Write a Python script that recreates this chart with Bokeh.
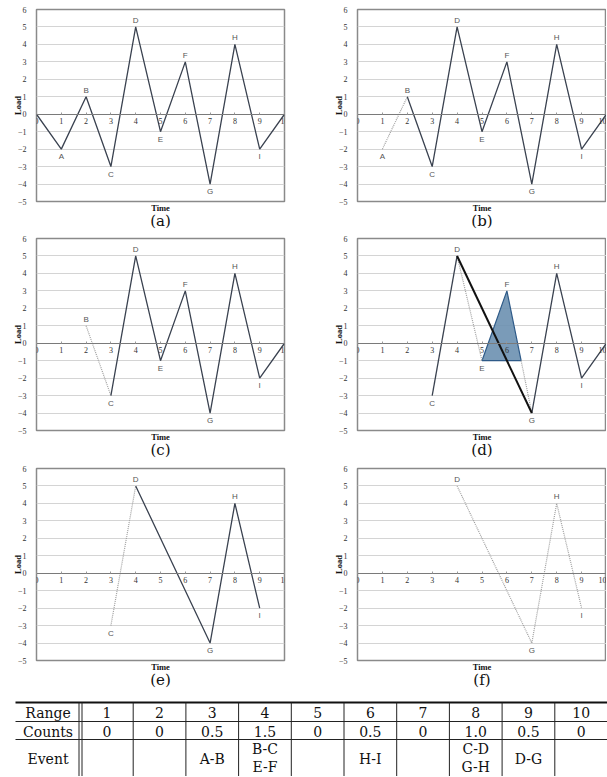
from bokeh.plotting import figure
from bokeh.models import Range1d, LinearAxis, Title, FixedTicker
from bokeh.layouts import column, row
from bokeh.embed import file_html
from bokeh.resources import INLINE
from bokeh.core.properties import value

# ---------------- data ----------------
times = [0, 1, 2, 3, 4, 5, 6, 7, 8, 9, 10]
loads = [0, -2, 1, -3, 5, -1, 3, -4, 4, -2, 0]
names = ["", "A", "B", "C", "D", "E", "F", "G", "H", "I", ""]

# which points (indices) are drawn solid / dotted / thick, and labelled, per panel
panel_a_solid = [[0, 1, 2, 3, 4, 5, 6, 7, 8, 9, 10]]
panel_a_dotted = []
panel_a_labels = [1, 2, 3, 4, 5, 6, 7, 8, 9]

panel_b_solid = [[2, 3, 4, 5, 6, 7, 8, 9, 10]]
panel_b_dotted = [[1, 2]]
panel_b_labels = [1, 2, 3, 4, 5, 6, 7, 8, 9]

panel_c_solid = [[3, 4, 5, 6, 7, 8, 9, 10]]
panel_c_dotted = [[2, 3]]
panel_c_labels = [2, 3, 4, 5, 6, 7, 8, 9]

panel_d_solid = [[3, 4], [7, 8, 9, 10]]
panel_d_dotted = [[4, 5]]
panel_d_thick = [[4, 7]]
panel_d_cycle = [5, 6, 7]      # E-F cycle cut out (shaded), closing towards G
panel_d_labels = [3, 4, 5, 6, 7, 8, 9]

panel_e_solid = [[4, 7, 8, 9]]
panel_e_dotted = [[3, 4]]
panel_e_labels = [3, 4, 7, 8, 9]

panel_f_solid = []
panel_f_dotted = [[4, 7, 8, 9]]
panel_f_labels = [4, 7, 8, 9]

table_ranges = ["1", "2", "3", "4", "5", "6", "7", "8", "9", "10"]
table_counts = ["0", "0", "0.5", "1.5", "0", "0.5", "0", "1.0", "0.5", "0"]
table_events_1 = ["", "", "A-B", "B-C", "", "H-I", "", "C-D", "D-G", ""]
table_events_2 = ["", "", "", "E-F", "", "", "", "G-H", "", ""]

# ---------------- style ----------------
SERIF = "Liberation Serif"
SANS = "Liberation Sans"
LINE = "#3a4250"
DOT = "#a0a0a0"


def make_panel(caption, solid, dotted, labels, left, top, bottom_h, thick=None, cycle=None):
    if left:
        kw = dict(frame_width=248, min_border_left=36, min_border_right=19)
    else:
        kw = dict(frame_width=249, min_border_left=54, min_border_right=0)
    p = figure(frame_height=192, output_backend="svg", toolbar_location=None,
               x_range=Range1d(0, 10), y_range=Range1d(-5, 6),
               x_axis_location=None, min_border_top=top, min_border_bottom=bottom_h,
               title=None, **kw)
    p.background_fill_color = "white"
    p.border_fill_color = "white"
    p.outline_line_color = "#8a8a8a"
    p.outline_line_width = 1.5
    p.xgrid.visible = False
    p.ygrid.grid_line_color = "#d4d4d4"
    p.ygrid.grid_line_width = 1
    p.ygrid.ticker = FixedTicker(ticks=list(range(-5, 7)))

    ya = p.yaxis[0]
    ya.ticker = FixedTicker(ticks=list(range(-5, 7)))
    ya.axis_line_color = None
    ya.major_tick_line_color = None
    ya.minor_tick_line_color = None
    ya.major_label_text_font = SERIF
    ya.major_label_text_font_size = "8px"
    ya.major_label_text_color = "#333333"
    ya.major_label_standoff = 4
    ya.axis_label = "Load"
    ya.axis_label_text_font = SERIF
    ya.axis_label_text_font_style = "bold"
    ya.axis_label_text_font_size = "8.5px"
    ya.axis_label_text_color = "#111111"
    ya.axis_label_standoff = -8

    xa = LinearAxis(fixed_location=0)
    xa.ticker = FixedTicker(ticks=list(range(0, 11)))
    xa.axis_line_color = "#7a7a7a"
    xa.axis_line_width = 1.2
    xa.major_tick_line_color = "#9a9a9a"
    xa.major_tick_in = 2
    xa.major_tick_out = 0
    xa.minor_tick_line_color = None
    xa.major_label_text_font = SERIF
    xa.major_label_text_font_size = "8px"
    xa.major_label_text_color = "#333333"
    xa.major_label_standoff = 4
    p.add_layout(xa, "below")

    if cycle is not None:
        e, f, g = cycle
        # point where F-G falls back to the level of E
        xc = times[f] + (loads[f] - loads[e]) / (loads[f] - loads[g]) * (times[g] - times[f])
        p.patch([times[e], times[f], xc], [loads[e], loads[f], loads[e]],
                fill_color="#6b90b0", fill_alpha=0.9, line_color="#2e5a88", line_width=1.2)
        p.line([xc, times[g]], [loads[e], loads[g]], line_color=DOT, line_width=1.2, line_dash="1 1")

    for seg in dotted:
        p.line([times[i] for i in seg], [loads[i] for i in seg],
               line_color=DOT, line_width=1.2, line_dash="1 1")
    for seg in solid:
        p.line([times[i] for i in seg], [loads[i] for i in seg],
               line_color=LINE, line_width=1.3)
    if thick:
        for seg in thick:
            p.line([times[i] for i in seg], [loads[i] for i in seg],
                   line_color="#111111", line_width=2)

    up = [i for i in labels if loads[i] > 0]
    dn = [i for i in labels if loads[i] <= 0]
    p.text([times[i] for i in up], [loads[i] for i in up], [names[i] for i in up],
           text_font=value(SANS), text_font_size="8px", text_color="#555555",
           text_align="center", text_baseline="bottom", y_offset=-2)
    p.text([times[i] for i in dn], [loads[i] for i in dn], [names[i] for i in dn],
           text_font=value(SANS), text_font_size="8px", text_color="#555555",
           text_align="center", text_baseline="top", y_offset=3)

    p.add_layout(Title(text="Time", align="center", text_font=SERIF, text_font_style="bold",
                       text_font_size="8.5px", text_color="#111111", standoff=-1), "below")
    p.add_layout(Title(text=caption, align="center", text_font="DejaVu Serif", text_font_style="normal",
                       text_font_size="15px", text_color="#111111", standoff=-6), "below")
    return p


pa = make_panel("(a)", panel_a_solid, panel_a_dotted, panel_a_labels, True, 9, 31)
pb = make_panel("(b)", panel_b_solid, panel_b_dotted, panel_b_labels, False, 9, 31)
pc = make_panel("(c)", panel_c_solid, panel_c_dotted, panel_c_labels, True, 6, 33)
pd = make_panel("(d)", panel_d_solid, panel_d_dotted, panel_d_labels, False, 6, 33,
                thick=panel_d_thick, cycle=panel_d_cycle)
pe = make_panel("(e)", panel_e_solid, panel_e_dotted, panel_e_labels, True, 5, 34)
pf = make_panel("(f)", panel_f_solid, panel_f_dotted, panel_f_labels, False, 5, 34)

# ---------------- table ----------------
TW, TH = 607, 82
t = figure(width=TW, height=TH, output_backend="svg", toolbar_location=None,
           x_range=Range1d(0, TW), y_range=Range1d(TH, 0),
           x_axis_location=None, y_axis_location=None,
           min_border=0, min_border_left=0, min_border_right=0, min_border_top=0, min_border_bottom=0)
t.outline_line_color = None
t.grid.visible = False
t.border_fill_color = "white"

x0, xs = 15, 80
cw = (TW - xs) / len(table_ranges)
centers = [xs + cw * (i + 0.5) for i in range(len(table_ranges))]
edges = [xs + cw * i for i in range(1, len(table_ranges))]
y_top, y_r, y_c, y_b = 8, 27, 45, TH

t.segment(x0=[x0], y0=[y_top], x1=[TW], y1=[y_top], line_color="#111111", line_width=2)
t.segment(x0=[x0, x0], y0=[y_r, y_c], x1=[TW, TW], y1=[y_r, y_c], line_color="#222222", line_width=1)
t.segment(x0=[xs - 1.5, xs + 1.5], y0=[y_top, y_top], x1=[xs - 1.5, xs + 1.5], y1=[y_b, y_b],
          line_color="#222222", line_width=1)
t.segment(x0=edges, y0=[y_top] * len(edges), x1=edges, y1=[y_b] * len(edges),
          line_color="#222222", line_width=1)

tf = dict(text_font=value("DejaVu Serif"), text_font_size="14px", text_color="#111111",
          text_align="center", text_baseline="middle")
cx = (x0 + xs) / 2
t.text([cx, cx, cx], [18, 37, 64], ["Range", "Counts", "Event"], **tf)
t.text(centers, [18] * 10, table_ranges, **tf)
t.text(centers, [37] * 10, table_counts, **tf)
ev1_y = [54 if table_events_2[i] else 64 for i in range(10)]
t.text(centers, ev1_y, table_events_1, **tf)
t.text(centers, [72] * 10, table_events_2, **tf)

layout = column(row(pa, pb), row(pc, pd), row(pe, pf), t)
open("out.html", "w").write(file_html(layout, INLINE))
